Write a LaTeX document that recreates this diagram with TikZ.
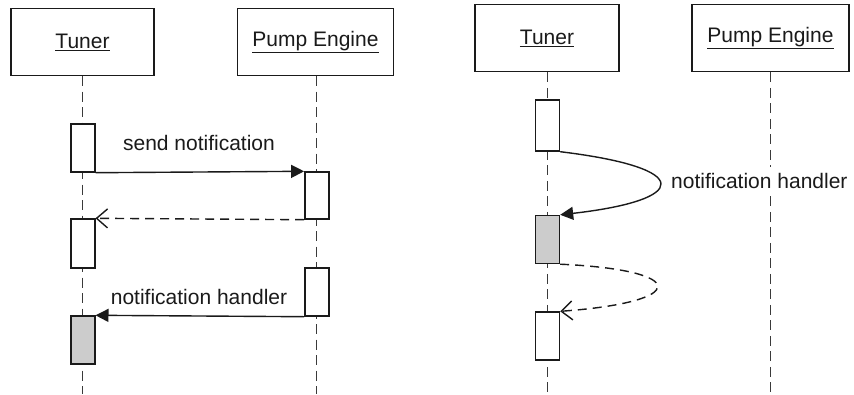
\documentclass[tikz,border=0pt]{standalone}
\usepackage{fontspec}
\setmainfont{Liberation Sans}
\usetikzlibrary{arrows.meta}
\definecolor{ink}{HTML}{1A1A1A}
\definecolor{lifegray}{HTML}{3A3A3A}
\definecolor{busy}{HTML}{CCCCCC}
\tikzset{
  objbox/.style={draw=ink, line width=1.4pt, fill=white, minimum height=67pt, inner sep=0pt, font=\fontsize{21}{24}\selectfont, text=ink},
  lifeline/.style={draw=lifegray, line width=1.5pt, dash pattern=on 10pt off 5.5pt},
  act/.style={draw=ink, line width=1.4pt, fill=white, minimum width=24pt, inner sep=0pt},
  actbusy/.style={act, fill=busy},
  callmsg/.style={draw=ink, line width=1.4pt, -{Triangle[length=13pt,width=13pt]}},
  replymsg/.style={draw=ink, line width=1.4pt, dash pattern=on 9pt off 6pt, -{Straight Barb[length=11pt,width=19pt,line width=1.4pt]}},
  msglabel/.style={font=\fontsize{21}{24}\selectfont, text=ink, inner xsep=1pt, inner ysep=6pt, fill=white}
}
\begin{document}
\begin{tikzpicture}[x=1pt,y=-1pt]
\useasboundingbox (0,0) rectangle (854,394);

% ---- first scenario: notification through the pump engine ----
\node[objbox, minimum width=143pt] (tunerA) at (82.5,42) {\underline{Tuner}};
\node[objbox, minimum width=156pt] (pumpA) at (315.5,42) {\underline{Pump Engine}};
\coordinate (tunerAend) at (82.7,394);
\coordinate (pumpAend) at (316.5,394);
\draw[lifeline] (tunerAend |- tunerA.south) -- (tunerAend);
\draw[lifeline] (pumpAend |- pumpA.south) -- (pumpAend);

\node[act, minimum height=48pt] (a1) at (82.8,148) {};
\node[act, minimum height=47pt] (b1) at (316.8,195.5) {};
\node[act, minimum height=49pt] (a2) at (82.8,243.5) {};
\node[act, minimum height=48pt] (b2) at (316.8,292) {};
\node[actbusy, minimum height=48pt] (a3) at (82.8,340) {};

\draw[callmsg] (a1.south east) -- (b1.north west);
\draw[replymsg] (b1.south west) -- (a2.north east);
\draw[callmsg] (b2.south west) -- (a3.north east);

\node[msglabel] (lsend) at (199,143) {send notification};
\node[msglabel] (lhandA) at (199,297) {notification handler};

% ---- second scenario: handler called directly on the tuner ----
\node[objbox, minimum width=144pt] (tunerB) at (547,38.2) {\underline{Tuner}};
\node[objbox, minimum width=157pt] (pumpB) at (770.5,38.2) {\underline{Pump Engine}};
\coordinate (tunerBend) at (547.7,394);
\coordinate (pumpBend) at (770.7,394);
\draw[lifeline] (tunerBend |- tunerB.south) -- (tunerBend);
\draw[lifeline] (pumpBend |- pumpB.south) -- (pumpBend);

\node[act, minimum height=51pt] (c1) at (547.5,125.5) {};
\node[actbusy, minimum height=48pt] (c2) at (547.5,239.5) {};
\node[act, minimum height=48pt] (c3) at (547.5,336) {};

\draw[callmsg] (c1.south east) .. controls (695,168) and (690,200) .. (c2.north east);
\draw[replymsg] (c2.south east) .. controls (690,270) and (690,302) .. (c3.north east);

\node[msglabel, anchor=west] (lhandB) at (670,181) {notification handler};
\end{tikzpicture}
\end{document}
